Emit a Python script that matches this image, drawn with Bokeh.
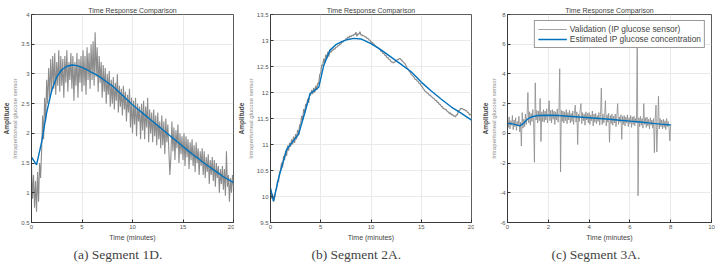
import numpy as np
from bokeh.plotting import figure
from bokeh.layouts import row
from bokeh.models import (Title, FixedTicker, NumeralTickFormatter, Range1d,
                          Legend, LegendItem)
from bokeh.embed import file_html
from bokeh.resources import INLINE

# ---------------- Segment 1D ----------------
seg1_dt = 0.1  # sensor sample period (minutes)
seg1_sensor = [
    1.45, 0.9, 1.3, 0.75, 1.2, 0.68, 1.35, 0.85, 1.5, 1.25,
    1.7, 2.3, 1.9, 2.6, 2.2, 2.9, 2.5, 3.1, 2.6, 3.25,
    2.7, 3.3, 2.75, 3.35, 2.65, 3.2, 2.8, 3.4, 2.7, 3.3,
    2.8, 3.25, 2.6, 3.3, 2.85, 3.4, 2.7, 3.2, 2.9, 3.35,
    2.75, 3.3, 2.55, 3.2, 2.8, 3.35, 2.6, 3.25, 2.85, 3.3,
    2.7, 3.4, 2.8, 3.3, 2.65, 3.45, 2.9, 3.35, 2.75, 3.5,
    2.9, 3.55, 2.8, 3.7, 2.95, 3.45, 2.7, 3.3, 2.85, 3.2,
    2.6, 3.15, 2.7, 3.1, 2.5, 3.0, 2.65, 3.05, 2.45, 2.9,
    2.5, 2.95, 2.4, 2.85, 2.55, 3.0, 2.35, 2.8, 2.45, 2.75,
    2.3, 2.8, 2.4, 2.7, 2.2, 2.65, 2.35, 2.75, 2.1, 2.6,
    2.0, 2.55, 2.15, 2.6, 1.95, 2.5, 2.2, 2.45, 1.9, 2.5,
    2.05, 2.55, 1.9, 2.45, 2.1, 2.6, 1.85, 2.4, 2.0, 2.35,
    1.85, 2.4, 1.95, 2.3, 1.8, 2.35, 1.9, 2.2, 1.75, 2.3,
    1.8, 2.2, 1.65, 2.25, 1.85, 2.15, 1.7, 1.3, 1.6, 2.2,
    1.7, 2.1, 1.55, 2.05, 1.75, 2.15, 1.5, 2.0, 1.65, 1.95,
    1.55, 2.0, 1.45, 1.95, 1.6, 1.9, 1.4, 1.85, 1.55, 1.9,
    1.45, 1.8, 1.35, 1.85, 1.5, 1.75, 1.3, 1.7, 1.45, 1.75,
    1.3, 1.7, 1.25, 1.6, 1.35, 1.65, 1.15, 1.55, 1.3, 1.6,
    1.2, 1.55, 1.1, 1.5, 1.25, 1.45, 1.0, 1.4, 1.15, 1.45,
    1.05, 1.4, 0.95, 1.7, 1.1, 1.3, 0.85, 1.25, 1.0, 1.3,
    1.1,
]
seg1_est_t = [0, 0.5, 1, 1.5, 2, 2.5, 3, 3.5, 4, 4.5, 5, 5.5, 6, 6.5, 7, 7.5,
              8, 8.5, 9, 9.5, 10, 10.5, 11, 11.5, 12, 12.5, 13, 13.5, 14, 14.5,
              15, 15.5, 16, 16.5, 17, 17.5, 18, 18.5, 19, 19.5, 20]
seg1_est = [1.6, 1.47, 1.85, 2.35, 2.72, 2.95, 3.07, 3.13, 3.15, 3.14, 3.11,
            3.07, 3.02, 2.98, 2.92, 2.86, 2.8, 2.72, 2.64, 2.56, 2.48, 2.41,
            2.34, 2.27, 2.2, 2.13, 2.06, 1.99, 1.92, 1.85, 1.78, 1.71, 1.64,
            1.58, 1.51, 1.45, 1.39, 1.33, 1.27, 1.22, 1.17]

# ---------------- Segment 2A ----------------
seg2_dt = 0.1
seg2_sensor = [
    10.12, 9.96, 10.05, 9.9, 9.97, 10.1, 10.15, 10.3, 10.28, 10.47,
    10.5, 10.65, 10.56, 10.78, 10.7, 10.88, 10.78, 10.98, 10.88, 11.03,
    10.96, 11.1, 11.0, 11.15, 11.03, 11.2, 11.1, 11.28, 11.18, 11.38,
    11.38, 11.55, 11.47, 11.68, 11.6, 11.78, 11.75, 11.88, 11.8, 11.98,
    11.95, 12.05, 11.97, 12.09, 12.0, 12.13, 12.05, 12.18, 12.17, 12.35,
    12.37, 12.53, 12.52, 12.65, 12.57, 12.73, 12.65, 12.78, 12.69, 12.81,
    12.77, 12.8, 12.81, 12.84, 12.83, 12.87, 12.87, 12.9, 12.9, 12.93,
    12.93, 12.97, 12.97, 13.0, 13.0, 13.03, 13.03, 13.07, 13.05, 13.09,
    13.07, 13.1, 13.09, 13.12, 13.11, 13.16, 13.08, 13.13, 13.12, 13.17,
    13.1, 13.11, 13.09, 13.09, 13.07, 13.07, 13.04, 13.04, 13.01, 13.01,
    12.96, 12.97, 12.94, 12.93, 12.9, 12.89, 12.87, 12.87, 12.84, 12.83,
    12.79, 12.79, 12.75, 12.75, 12.71, 12.71, 12.67, 12.67, 12.63, 12.63,
    12.59, 12.59, 12.57, 12.58, 12.59, 12.61, 12.63, 12.63, 12.65, 12.65,
    12.63, 12.61, 12.59, 12.57, 12.55, 12.51, 12.47, 12.45, 12.41, 12.39,
    12.35, 12.33, 12.31, 12.29, 12.25, 12.25, 12.22, 12.21, 12.17, 12.17,
    12.13, 12.11, 12.07, 12.05, 12.02, 12.01, 11.99, 11.98, 11.95, 11.95,
    11.92, 11.91, 11.89, 11.88, 11.85, 11.85, 11.81, 11.81, 11.77, 11.77,
    11.73, 11.73, 11.69, 11.69, 11.67, 11.67, 11.63, 11.63, 11.59, 11.61,
    11.57, 11.58, 11.55, 11.55, 11.53, 11.57, 11.57, 11.65, 11.65, 11.69,
    11.69, 11.69, 11.67, 11.67, 11.65, 11.65, 11.62, 11.61, 11.57, 11.58,
    11.56,
]
seg2_est_t = [0, 0.3, 0.8, 1.6, 2.2, 2.8, 3.4, 3.95, 4.4, 4.8, 5.3, 5.9, 6.5,
              7.1, 7.7, 8.3, 9.0, 10, 11, 12, 13, 14, 15, 16, 17, 18, 19, 20]
seg2_est = [10.16, 9.91, 10.35, 10.9, 11.05, 11.2, 11.6, 11.98, 12.04, 12.1,
            12.52, 12.81, 12.92, 12.98, 13.02, 13.04, 13.03, 12.94, 12.82,
            12.68, 12.54, 12.4, 12.2, 12.03, 11.87, 11.72, 11.6, 11.47]

# ---------------- Segment 3A ----------------
seg3_dt = 0.04
seg3_sensor = [
    0.95, 0.4, 1.1, 0.3, 0.85, 0.55, 1.2, 0.25, 0.9, 0.45,
    1.05, 0.2, 0.8, 0.5, 1.15, 0.1, 0.75, -0.85, 1.4, 0.35,
    0.95, 0.45, 1.3, 0.6, 1.2, 2.75, 0.7, 1.45, 0.55, 1.35,
    0.8, 1.6, 0.65, -1.95, 3.4, 0.9, 1.55, 0.7, 1.5, 0.85,
    2.35, -0.55, 1.45, 0.8, 1.6, 0.75, 1.5, 0.9, 1.65, 0.7,
    1.4, 2.2, 0.85, 1.55, 0.7, 1.6, 0.95, 1.5, 0.6, 1.45,
    0.9, 1.65, 0.75, 1.4, 4.35, -2.6, 1.55, 0.8, 1.5, 0.7,
    1.45, 0.85, 1.6, 0.65, 1.4, 0.9, 1.55, 0.7, 1.35, 0.8,
    1.5, 0.6, 1.35, 1.9, 0.75, 1.45, -0.75, 1.3, 0.8, 1.55,
    2.0, 0.65, 1.4, 0.85, 1.3, 0.55, 1.45, 0.9, 1.35, 0.7,
    1.4, 0.6, 1.25, 0.85, 1.5, 0.5, 1.3, 0.75, 1.35, 0.65,
    1.2, 0.8, 1.4, 0.55, 1.25, 3.05, 0.6, 1.3, 0.7, 1.2,
    2.2, 0.5, 1.25, 0.75, 1.35, -0.6, 1.2, 0.65, 1.3, 0.55,
    1.15, 0.7, 1.3, 0.45, 1.2, 2.0, 0.6, 1.1, 0.75, 1.25,
    -0.4, 1.15, 0.6, 1.2, 0.5, 1.1, 0.7, 1.25, 0.45, 1.05,
    0.65, 1.2, 0.4, 1.1, 0.6, 1.15, 0.5, 1.0, 0.7, 6.3,
    -4.2, 1.05, 0.45, 1.15, 0.55, 1.0, 0.35, 2.0, 0.6, 1.05,
    0.4, 1.1, 0.5, 0.95, 0.3, 1.05, 0.55, 0.9, 0.35, 1.0,
    -1.3, 0.95, 1.9, -1.25, 0.4, 2.5, 0.3, 1.0, 0.45, 0.9,
    0.3, 0.95, 0.4, 0.85, 0.25, 1.0, 0.45, 0.8, 0.35, -0.5,
    0.6,
]
seg3_est_t = [0, 0.3, 0.6, 0.8, 1.0, 1.2, 1.5, 2.0, 2.5, 3.0, 3.5, 4.0, 4.5,
              5.0, 5.5, 6.0, 6.5, 7.0, 7.5, 8.0]
seg3_est = [0.68, 0.62, 0.5, 0.7, 0.98, 1.12, 1.2, 1.22, 1.2, 1.15, 1.1, 1.05,
            1.0, 0.95, 0.88, 0.82, 0.76, 0.69, 0.62, 0.56]

SANS = "Liberation Sans"
SERIF = "Liberation Serif"
GRAY = "#8c8c8c"
BLUE = "#0072BD"
EDGE = "#333333"


def panel(sensor, dt, est_t, est, xr, yr, xticks, yticks, caption, width,
          border_left, border_right, cap_offset, gray_width, legend=False):
    p = figure(width=width, height=263, output_backend="svg",
               toolbar_location=None,
               x_range=Range1d(*xr), y_range=Range1d(*yr),
               min_border_left=border_left, min_border_right=border_right,
               min_border_top=14, min_border_bottom=40)
    p.background_fill_color = "white"
    p.border_fill_color = "white"
    p.outline_line_color = EDGE
    p.outline_line_width = 0.8

    p.title.text = "Time Response Comparison"
    p.title.align = "center"
    p.title.text_font = SANS
    p.title.text_font_size = "7px"
    p.title.text_font_style = "normal"
    p.title.standoff = 2

    for ax in (p.xaxis[0], p.yaxis[0]):
        ax.formatter = NumeralTickFormatter(format="0.[0]")
        ax.major_label_text_font = SANS
        ax.major_label_text_font_size = "6px"
        ax.major_label_text_color = "#555555"
        ax.axis_line_color = EDGE
        ax.axis_line_width = 0.8
        ax.major_tick_in = 3
        ax.major_tick_out = 0
        ax.major_tick_line_color = EDGE
        ax.minor_tick_line_color = None
        ax.major_label_standoff = 2
    p.xaxis.ticker = FixedTicker(ticks=xticks)
    p.yaxis.ticker = FixedTicker(ticks=yticks)

    p.xaxis.axis_label = "Time (minutes)"
    p.xaxis.axis_label_text_font = SANS
    p.xaxis.axis_label_text_font_size = "7px"
    p.xaxis.axis_label_text_font_style = "normal"
    p.xaxis.axis_label_standoff = 2

    p.yaxis.axis_label = "Intraperitoneal glucose sensor"
    p.yaxis.axis_label_text_font = SANS
    p.yaxis.axis_label_text_font_size = "6px"
    p.yaxis.axis_label_text_font_style = "normal"
    p.yaxis.axis_label_text_color = "#8a8a8a"
    p.yaxis.axis_label_standoff = 0
    p.add_layout(Title(text="Amplitude", align="center", text_font=SANS,
                       text_font_size="6.5px", text_font_style="bold",
                       standoff=0), "left")

    p.add_layout(Title(text=caption, align="left", offset=cap_offset,
                       text_font=SERIF, text_font_size="13.5px",
                       text_font_style="normal", standoff=3), "below")

    p.grid.grid_line_color = "#e4e4e4"
    p.grid.grid_line_width = 0.8

    t_sensor = np.arange(len(sensor)) * dt
    r_sensor = p.line(t_sensor, sensor, line_color=GRAY, line_width=gray_width)
    r_est = p.line(est_t, est, line_color=BLUE, line_width=1.4)

    if legend:
        leg = Legend(items=[
            LegendItem(label="Validation (IP glucose sensor)", renderers=[r_sensor]),
            LegendItem(label="Estimated IP glucose concentration", renderers=[r_est]),
        ], location="top_right")
        leg.margin = 6
        leg.padding = 3
        leg.spacing = 0
        leg.glyph_width = 29
        leg.glyph_height = 10
        leg.label_height = 10
        leg.label_standoff = 3
        leg.label_text_font = SANS
        leg.label_text_font_size = "8.4px"
        leg.border_line_color = EDGE
        leg.border_line_width = 0.8
        leg.background_fill_alpha = 1.0
        p.add_layout(leg, "center")
    return p


p1 = panel(seg1_sensor, seg1_dt, seg1_est_t, seg1_est, (0, 20), (0.5, 4),
           [0, 5, 10, 15, 20], [0.5, 1, 1.5, 2, 2.5, 3, 3.5, 4],
           "(a) Segment 1D.", 234, 31, 1, 42, 1.1)
p2 = panel(seg2_sensor, seg2_dt, seg2_est_t, seg2_est, (0, 20), (9.5, 13.5),
           [0, 5, 10, 15, 20], [9.5, 10, 10.5, 11, 11.5, 12, 12.5, 13, 13.5],
           "(b) Segment 2A.", 240, 36, 3, 41, 1.2)
p3 = panel(seg3_sensor, seg3_dt, seg3_est_t, seg3_est, (0, 10), (-6, 8),
           [0, 2, 4, 6, 8, 10], [-6, -4, -2, 0, 2, 4, 6, 8],
           "(c) Segment 3A.", 243, 33, 6, 44, 0.8, legend=True)

layout = row(p1, p2, p3)
open("out.html", "w").write(file_html(layout, INLINE))
